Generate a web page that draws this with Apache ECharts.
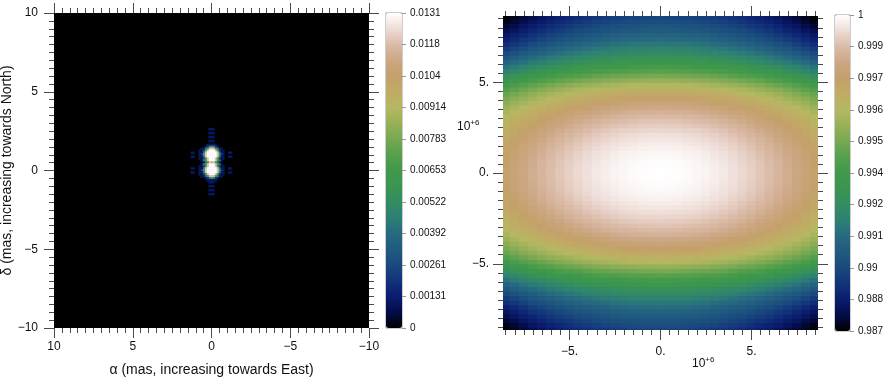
<!DOCTYPE html>
<html>
<head>
<meta charset="utf-8">
<script src="https://cdn.jsdelivr.net/npm/echarts@6/dist/echarts.min.js"></script>
<style>
html, body { margin: 0; padding: 0; background: #fff; }
#chart { width: 894px; height: 377px; }
</style>
</head>
<body>
<div id="chart"></div>
<script>
// --- left panel: intensity map (mas), levels 0..c ---
var psfMax = 0.0131;
var psfStep = 0.125;          // cell size in mas
var psfX0 = -1.375;           // first column centre
var psfY0 = 2.625;            // first row centre (top)
var psfRows = [
    "00000000001110000000000",
    "00000000000000000000000",
    "00000000001110000000000",
    "00000000000000000000000",
    "00000000001110000000000",
    "00000000000000000000000",
    "00000000001110000000000",
    "00000000000000000000000",
    "00000000011111000000000",
    "00000000124642100000000",
    "0000001146bbb6411000000",
    "000001026bcccb620100000",
    "01100114bcccccb41100110",
    "00000126bcccccb62100000",
    "01100114bcccccb41100110",
    "000001026bcccb620100000",
    "000000146bcccb641000000",
    "0000000146b9b6410000000",
    "000000146bcccb641000000",
    "000001026bcccb620100000",
    "01100114bcccccb41100110",
    "00000126bcccccb62100000",
    "01100114bcccccb41100110",
    "000001026bcccb620100000",
    "0000001146bbb6411000000",
    "00000000124642100000000",
    "00000000011111000000000",
    "00000000001110000000000",
    "00000000000000000000000",
    "00000000001110000000000",
    "00000000000000000000000",
    "00000000001110000000000",
    "00000000000000000000000",
    "00000000001110000000000",
    "00000000000000000000000"
];
var alphaTicks = [10, 5, 0, -5, -10];
var alphaLabels = ['10', '5', '0', '\u22125', '\u221210'];
var deltaTicks = [-10, -5, 0, 5, 10];
var deltaLabels = ['\u221210', '\u22125', '0', '5', '10'];
var psfBarTicks = [0, 0.00131, 0.00262, 0.00393, 0.00524, 0.00655, 0.00786, 0.00917, 0.01048, 0.01179, 0.0131];
var psfBarLabels = ['0', '0.00131', '0.00261', '0.00392', '0.00522', '0.00653', '0.00783', '0.00914', '0.0104', '0.0118', '0.0131'];

// --- right panel: visibility (units of 10^6) ---
var uvRange = 8.65;
var uvXStep = 0.5, uvX0 = -8.5;       // column centres
var uvYStep = 0.25, uvY0 = -8.625;    // row centres (bottom first)
// values along the y = 0 row, x = -8.5 .. 8.5
var rowProfile = [0.99745, 0.99774, 0.99802, 0.99827, 0.99851, 0.99873, 0.99893, 0.99912, 0.99929,
    0.99943, 0.99957, 0.99968, 0.99978, 0.99986, 0.99992, 0.99996, 0.99999, 1.00000, 0.99999,
    0.99996, 0.99992, 0.99986, 0.99978, 0.99968, 0.99957, 0.99943, 0.99929, 0.99912, 0.99893,
    0.99873, 0.99851, 0.99827, 0.99802, 0.99774, 0.99745];
// values along the x = 0 column, y = -8.625 .. 8.625
var colProfile = [0.98945, 0.98972, 0.99000, 0.99030, 0.99061, 0.99095, 0.99132, 0.99172, 0.99215,
    0.99262, 0.99312, 0.99365, 0.99421, 0.99481, 0.99546, 0.99606, 0.99658, 0.99703, 0.99742,
    0.99777, 0.99809, 0.99839, 0.99866, 0.99888, 0.99907, 0.99925, 0.99941, 0.99954, 0.99966,
    0.99976, 0.99984, 0.99990, 0.99995, 0.99998, 1.00000,
    1.00000, 0.99998, 0.99995, 0.99990, 0.99984, 0.99976, 0.99966, 0.99954, 0.99941, 0.99925,
    0.99907, 0.99888, 0.99866, 0.99839, 0.99809, 0.99777, 0.99742, 0.99703, 0.99658, 0.99606,
    0.99546, 0.99481, 0.99421, 0.99365, 0.99312, 0.99262, 0.99215, 0.99172, 0.99132, 0.99095,
    0.99061, 0.99030, 0.99000, 0.98972, 0.98945];
var uvMajor = [-5, 0, 5];
var uvLabels = ['\u22125.', '0.', '5.'];
var visMin = 0.987, visMax = 1;
var visBarTicks = [0.987, 0.9883, 0.9896, 0.9909, 0.9922, 0.9935, 0.9948, 0.9961, 0.9974, 0.9987, 1];
var visBarLabels = ['0.987', '0.988', '0.99', '0.991', '0.992', '0.994', '0.995', '0.996', '0.997', '0.999', '1'];

var terrain = ['#000000', '#040c48', '#0a1d6e', '#12337a', '#1a4a7e', '#205a80', '#276a80',
    '#2d8074', '#348c62', '#3a9550', '#40994a', '#55a04c', '#77a852', '#98b058', '#b4b862',
    '#c0ac64', '#c4a06a', '#cca784', '#dbbba8', '#eedcd6', '#ffffff'];

var FONT = '"Liberation Sans", Arial, Helvetica, sans-serif';
var TICK = '#4a4a4a';

// build cell tables
var psfCells = [];
psfRows.forEach(function (row, r) {
    for (var i = 0; i < row.length; i++) {
        var lv = parseInt(row[i], 16);
        if (lv > 0) {
            psfCells.push([psfX0 + i * psfStep, psfY0 - r * psfStep, lv / 12 * psfMax]);
        }
    }
});
var visCells = [];
colProfile.forEach(function (cv, j) {
    rowProfile.forEach(function (rv, i) {
        visCells.push([uvX0 + i * uvXStep, uvY0 + j * uvYStep, Math.max(visMin, cv + rv - 1)]);
    });
});

function pick(values, labels) {
    return function (v) {
        var best = 0;
        for (var i = 1; i < values.length; i++) {
            if (Math.abs(values[i] - v) < Math.abs(values[best] - v)) best = i;
        }
        return labels[best];
    };
}

function cellRenderer(w, h, pad) {
    return function (params, api) {
        var x = api.value(0), y = api.value(1);
        var p0 = api.coord([x - w / 2, y + h / 2]);
        var p1 = api.coord([x + w / 2, y - h / 2]);
        var cs = params.coordSys;
        var shape = echarts.graphic.clipRectByRect({
            x: Math.min(p0[0], p1[0]) - pad,
            y: Math.min(p0[1], p1[1]) - pad,
            width: Math.abs(p1[0] - p0[0]) + 2 * pad,
            height: Math.abs(p1[1] - p0[1]) + 2 * pad
        }, { x: cs.x, y: cs.y, width: cs.width, height: cs.height });
        if (!shape) return;
        return { type: 'rect', shape: shape, style: { fill: api.visual('color') } };
    };
}

var titleStyle = { fontFamily: FONT, fontSize: 14, color: '#111' };
var tickLine = { color: TICK, width: 1 };

function frame(gridIndex, position, min, max, opts) {
    var a = {
        gridIndex: gridIndex, type: 'value', position: position, min: min, max: max,
        axisLine: { show: false, onZero: false }, splitLine: { show: false },
        axisTick: { show: true, inside: false, length: 10, lineStyle: tickLine },
        axisLabel: { show: false }
    };
    for (var k in opts) a[k] = opts[k];
    return a;
}

var psfMinor = { show: true, splitNumber: 10, length: 5, lineStyle: tickLine };
var uvMinorTicks = [];
for (var t = -8.5; t <= 8.5; t += 0.5) uvMinorTicks.push(t);

function uvMajorAxis(pos, labelled, dim) {
    var o = {
        axisTick: { show: true, inside: false, length: 10, customValues: uvMajor, lineStyle: tickLine }
    };
    if (labelled) {
        o.axisLabel = {
            show: true, customValues: uvMajor, formatter: pick(uvMajor, uvLabels),
            margin: dim === 'x' ? 16 : 14, fontFamily: FONT, fontSize: 12, color: '#111'
        };
    }
    return frame(3, pos, -uvRange, uvRange, o);
}
function uvMinorAxis(pos) {
    return frame(3, pos, -uvRange, uvRange, {
        axisTick: { show: true, inside: false, length: 5, customValues: uvMinorTicks, lineStyle: tickLine }
    });
}

function barAxis(gridIndex, min, max, ticks, labels) {
    return {
        gridIndex: gridIndex, type: 'value', position: 'right', min: min, max: max,
        axisLine: { show: false, onZero: false }, splitLine: { show: false },
        axisTick: { show: true, inside: false, length: 4, customValues: ticks, lineStyle: { color: '#999' } },
        axisLabel: { show: true, customValues: ticks, formatter: pick(ticks, labels), margin: 8,
            fontFamily: FONT, fontSize: 10, color: '#111' }
    };
}

var superRich = {
    a: { fontFamily: FONT, fontSize: 12, fill: '#111', lineHeight: 15 },
    b: { fontFamily: FONT, fontSize: 8, fill: '#111', verticalAlign: 'top', lineHeight: 15 }
};

function box(left, top, width, height, extra) {
    var g = { left: left, top: top, width: width, height: height, outerBoundsMode: 'none', containLabel: false };
    for (var k in extra) g[k] = extra[k];
    return g;
}

var chart = echarts.init(document.getElementById('chart'), null, { renderer: 'canvas' });
chart.setOption({
    animation: false,
    backgroundColor: '#fff',
    grid: [
        box(54, 13, 315, 315, { show: true, backgroundColor: '#000', borderWidth: 0 }),
        box(386, 13, 16, 315, { show: true, backgroundColor: 'transparent', borderColor: '#999', borderWidth: 1 }),
        box(0, 0, 1, 1, {}),
        box(503, 16, 315, 314, { show: false }),
        box(835, 15, 15, 316, { show: true, backgroundColor: 'transparent', borderColor: '#999', borderWidth: 1 })
    ],
    xAxis: [
        frame(0, 'bottom', -10, 10, {
            inverse: true, interval: 5, minorTick: psfMinor,
            axisLabel: { show: true, margin: 13, formatter: pick(alphaTicks, alphaLabels), fontFamily: FONT, fontSize: 12, color: '#111' },
            name: '\u03b1 (mas, increasing towards East)', nameLocation: 'middle', nameGap: 35,
            nameTextStyle: titleStyle
        }),
        frame(0, 'top', -10, 10, { inverse: true, interval: 5, minorTick: psfMinor }),
        { gridIndex: 1, type: 'value', show: false, min: 0, max: 1 },
        uvMajorAxis('bottom', true, 'x'),
        uvMinorAxis('bottom'),
        uvMajorAxis('top', false, 'x'),
        uvMinorAxis('top'),
        { gridIndex: 4, type: 'value', show: false, min: 0, max: 1 }
    ],
    yAxis: [
        frame(0, 'left', -10, 10, {
            interval: 5, minorTick: psfMinor,
            axisLabel: { show: true, margin: 16, formatter: pick(deltaTicks, deltaLabels), fontFamily: FONT, fontSize: 12, color: '#111' },
            name: '\u03b4 (mas, increasing towards North)', nameLocation: 'middle', nameGap: 40,
            nameTextStyle: titleStyle
        }),
        frame(0, 'right', -10, 10, { interval: 5, minorTick: psfMinor }),
        barAxis(1, 0, psfMax, psfBarTicks, psfBarLabels),
        uvMajorAxis('left', true, 'y'),
        uvMinorAxis('left'),
        uvMajorAxis('right', false, 'y'),
        uvMinorAxis('right'),
        barAxis(4, visMin, visMax, visBarTicks, visBarLabels)
    ],
    visualMap: [
        {
            type: 'continuous', seriesIndex: 0, dimension: 2, min: 0, max: psfMax,
            inRange: { color: terrain }, calculable: false, hoverLink: false,
            orient: 'vertical', left: 386, top: 13, itemWidth: 16, itemHeight: 315, padding: 0
        },
        {
            type: 'continuous', seriesIndex: 1, dimension: 2, min: visMin, max: visMax,
            inRange: { color: terrain }, calculable: false, hoverLink: false,
            orient: 'vertical', left: 835, top: 15, itemWidth: 15, itemHeight: 316, padding: 0
        }
    ],
    graphic: [
        { type: 'text', left: 457, top: 119, silent: true, style: { text: '{a|10}{b|+6}', rich: superRich } },
        { type: 'text', left: 692, top: 356, silent: true, style: { text: '{a|10}{b|+6}', rich: superRich } }
    ],
    series: [
        {
            type: 'custom', name: 'intensity', xAxisIndex: 0, yAxisIndex: 0, silent: true,
            renderItem: cellRenderer(psfStep, psfStep, 0.3), encode: { x: 0, y: 1 }, data: psfCells
        },
        {
            type: 'custom', name: 'visibility', xAxisIndex: 3, yAxisIndex: 3, silent: true,
            renderItem: cellRenderer(uvXStep, uvYStep, 0.6), encode: { x: 0, y: 1 }, data: visCells
        }
    ]
});
</script>
</body>
</html>
